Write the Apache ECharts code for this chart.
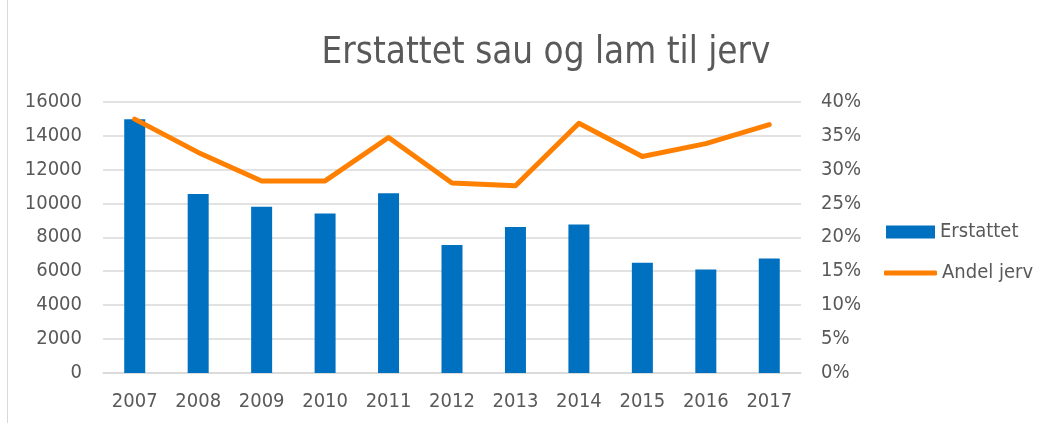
<!DOCTYPE html>
<html>
<head>
<meta charset="utf-8">
<script src="https://cdn.jsdelivr.net/npm/echarts@6/dist/echarts.min.js"></script>
<style>
  html, body { margin: 0; padding: 0; background: #fff; }
  #chart { width: 1057px; height: 423px; }
</style>
</head>
<body>
<div id="chart"></div>
<script>
  'use strict'

  var years = ['2007', '2008', '2009', '2010', '2011', '2012', '2013', '2014', '2015', '2016', '2017'];
  var erstattet = [14950, 10550, 9800, 9400, 10600, 7550, 8600, 8750, 6500, 6100, 6750];
  var andelJerv = [37.4, 32.5, 28.3, 28.3, 34.7, 28.0, 27.6, 36.8, 31.9, 33.8, 36.6];

  var font = '"DejaVu Sans Condensed", "DejaVu Sans", sans-serif';
  var grey = '#595959';

  var chart = echarts.init(document.getElementById('chart'));

  var option = {
    animation: false,
    textStyle: { fontFamily: font, color: grey },
    title: {
      text: 'Erstattet sau og lam til jerv',
      left: 541,
      top: 30,
      textAlign: 'center',
      textStyle: { fontFamily: font, fontSize: 36.5, fontWeight: 'normal', color: grey }
    },
    grid: { left: 103, right: 256, top: 101.5, bottom: 50 },
    legend: [
      {
        data: [{ name: 'Erstattet', icon: 'rect' }],
        left: 886, top: 222, padding: 0,
        itemWidth: 49, itemHeight: 13, itemGap: 0,
        textStyle: { fontFamily: font, fontSize: 20, color: grey }
      },
      {
        data: [{ name: 'Andel jerv', icon: 'roundRect' }],
        left: 884, top: 263, padding: 0,
        itemWidth: 53, itemHeight: 5, itemGap: 0,
        textStyle: { fontFamily: font, fontSize: 20, color: grey }
      }
    ],
    xAxis: {
      type: 'category',
      data: years,
      axisLine: { lineStyle: { color: '#d9d9d9', width: 1.5 } },
      axisTick: { show: false },
      axisLabel: { fontFamily: font, fontSize: 20, color: grey, margin: 19 }
    },
    yAxis: [
      {
        type: 'value', min: 0, max: 16000, interval: 2000,
        axisLine: { show: false },
        axisTick: { show: false },
        splitLine: { lineStyle: { color: '#d9d9d9', width: 1.5 } },
        axisLabel: {
          fontFamily: font, fontSize: 20, color: grey, margin: 21,
          formatter: function (v) { return String(v); }
        }
      },
      {
        type: 'value', min: 0, max: 40, interval: 5,
        position: 'right',
        axisLine: { show: false },
        axisTick: { show: false },
        splitLine: { show: false },
        axisLabel: { fontFamily: font, fontSize: 20, color: grey, margin: 20, formatter: '{value}%' }
      }
    ],
    series: [
      {
        name: 'Erstattet',
        type: 'bar',
        data: erstattet,
        barWidth: 21,
        itemStyle: { color: '#0070c0' }
      },
      {
        name: 'Andel jerv',
        type: 'line',
        yAxisIndex: 1,
        data: andelJerv,
        symbol: 'none',
        lineStyle: { color: '#ff8000', width: 5, cap: 'round', join: 'round' },
        itemStyle: { color: '#ff8000' }
      }
    ],
    graphic: [
      {
        type: 'line',
        shape: { x1: 7.5, y1: 0, x2: 7.5, y2: 423 },
        style: { stroke: '#d9d9d9', lineWidth: 1 }
      }
    ]
  };

  chart.setOption(option);
</script>
</body>
</html>
